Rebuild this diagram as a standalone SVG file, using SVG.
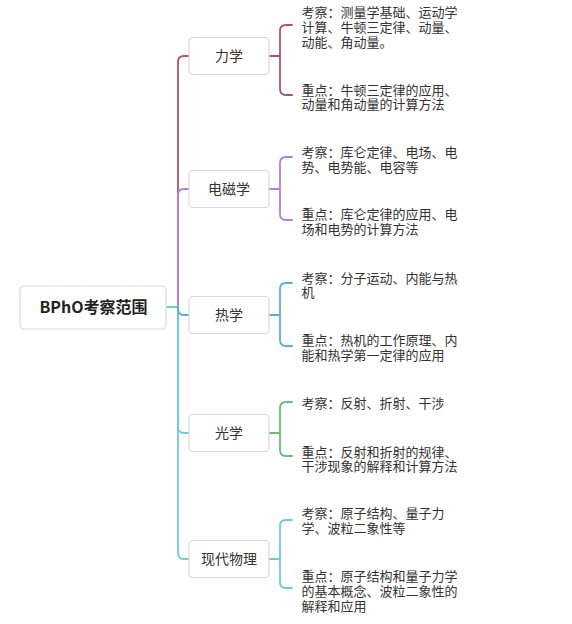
<svg xmlns="http://www.w3.org/2000/svg" width="572" height="624" viewBox="0 0 572 624">
<style>
.box{fill:#fff;stroke:#d9d9d9;stroke-width:1.2}
.t{font-family:"Noto Sans CJK SC","Noto Sans",sans-serif;fill:#333}
.bt{font-size:14px;text-anchor:middle}
.rt{font-size:16px;font-weight:bold;text-anchor:middle;fill:#222}
.lf{font-size:13px}
.c{fill:none;stroke-width:1.8;stroke-linecap:round}
.red{stroke:#b3506f}.pur{stroke:#b47fd4}.blu{stroke:#5aaed8}.grn{stroke:#6bbb72}.tea{stroke:#6ccdd2}
</style>
<rect width="572" height="624" fill="#fff"/>
<g id="connectors">
<path class="c tea" d="M166,307H178"/>
<path class="c red" d="M178,307V62Q178,56 184,56H189"/>
<path class="c pur" d="M178,307V195Q178,189 184,189H189"/>
<path class="c tea" d="M178,307V427Q178,433 184,433H189"/>
<path class="c tea" d="M178,307V553Q178,559 184,559H189"/>
<path class="c blu" d="M178,307V309Q178,315 184,315H189"/>
<path class="c red" d="M269,56H280M292,25H286Q280,25 280,31V89Q280,95 286,95H292"/>
<path class="c pur" d="M269,189H280M292,157H286Q280,157 280,163V214Q280,220 286,220H292"/>
<path class="c blu" d="M269,315H280M292,283H286Q280,283 280,289V340Q280,346 286,346H292"/>
<path class="c grn" d="M269,433H280M292,402H286Q280,402 280,408V450Q280,456 286,456H292"/>
<path class="c tea" d="M269,559H280M292,520H286Q280,520 280,526V582Q280,588 286,588H292"/>
</g>
<g id="root">
<rect class="box" x="20" y="286" width="146" height="43" rx="4"/>
<text class="t rt" x="93.5" y="313">BPhO考察范围</text>
</g>
<g id="mechanics">
<rect class="box" x="189" y="37.5" width="80" height="37" rx="4"/>
<text class="t bt" x="229" y="61">力学</text>
</g>
<g id="mechanics-exam">
<text class="t lf" x="301.5"><tspan x="301.5" y="16.5">考察：测量学基础、运动学</tspan><tspan x="301.5" y="31.5">计算、牛顿三定律、动量、</tspan><tspan x="301.5" y="46.5">动能、角动量。</tspan></text>
</g>
<g id="mechanics-key">
<text class="t lf"><tspan x="301.5" y="94.5">重点：牛顿三定律的应用、</tspan><tspan x="301.5" y="109">动量和角动量的计算方法</tspan></text>
</g>
<g id="em">
<rect class="box" x="189" y="170.5" width="80" height="37" rx="4"/>
<text class="t bt" x="229" y="194">电磁学</text>
</g>
<g id="em-exam">
<text class="t lf"><tspan x="301.5" y="157">考察：库仑定律、电场、电</tspan><tspan x="301.5" y="172">势、电势能、电容等</tspan></text>
</g>
<g id="em-key">
<text class="t lf"><tspan x="301.5" y="218.5">重点：库仑定律的应用、电</tspan><tspan x="301.5" y="234">场和电势的计算方法</tspan></text>
</g>
<g id="thermo">
<rect class="box" x="189" y="296.5" width="80" height="37" rx="4"/>
<text class="t bt" x="229" y="320">热学</text>
</g>
<g id="thermo-exam">
<text class="t lf"><tspan x="301.5" y="282.5">考察：分子运动、内能与热</tspan><tspan x="301.5" y="297">机</tspan></text>
</g>
<g id="thermo-key">
<text class="t lf"><tspan x="301.5" y="345">重点：热机的工作原理、内</tspan><tspan x="301.5" y="359.5">能和热学第一定律的应用</tspan></text>
</g>
<g id="optics">
<rect class="box" x="189" y="414.5" width="80" height="37" rx="4"/>
<text class="t bt" x="229" y="438">光学</text>
</g>
<g id="optics-exam">
<text class="t lf" x="301.5" y="407.5">考察：反射、折射、干涉</text>
</g>
<g id="optics-key">
<text class="t lf"><tspan x="301.5" y="456.5">重点：反射和折射的规律、</tspan><tspan x="301.5" y="471">干涉现象的解释和计算方法</tspan></text>
</g>
<g id="modern">
<rect class="box" x="189" y="540.5" width="80" height="37" rx="4"/>
<text class="t bt" x="229" y="564">现代物理</text>
</g>
<g id="modern-exam">
<text class="t lf"><tspan x="301.5" y="517.5">考察：原子结构、量子力</tspan><tspan x="301.5" y="533">学、波粒二象性等</tspan></text>
</g>
<g id="modern-key">
<text class="t lf"><tspan x="301.5" y="581">重点：原子结构和量子力学</tspan><tspan x="301.5" y="596">的基本概念、波粒二象性的</tspan><tspan x="301.5" y="611">解释和应用</tspan></text>
</g>
</svg>
